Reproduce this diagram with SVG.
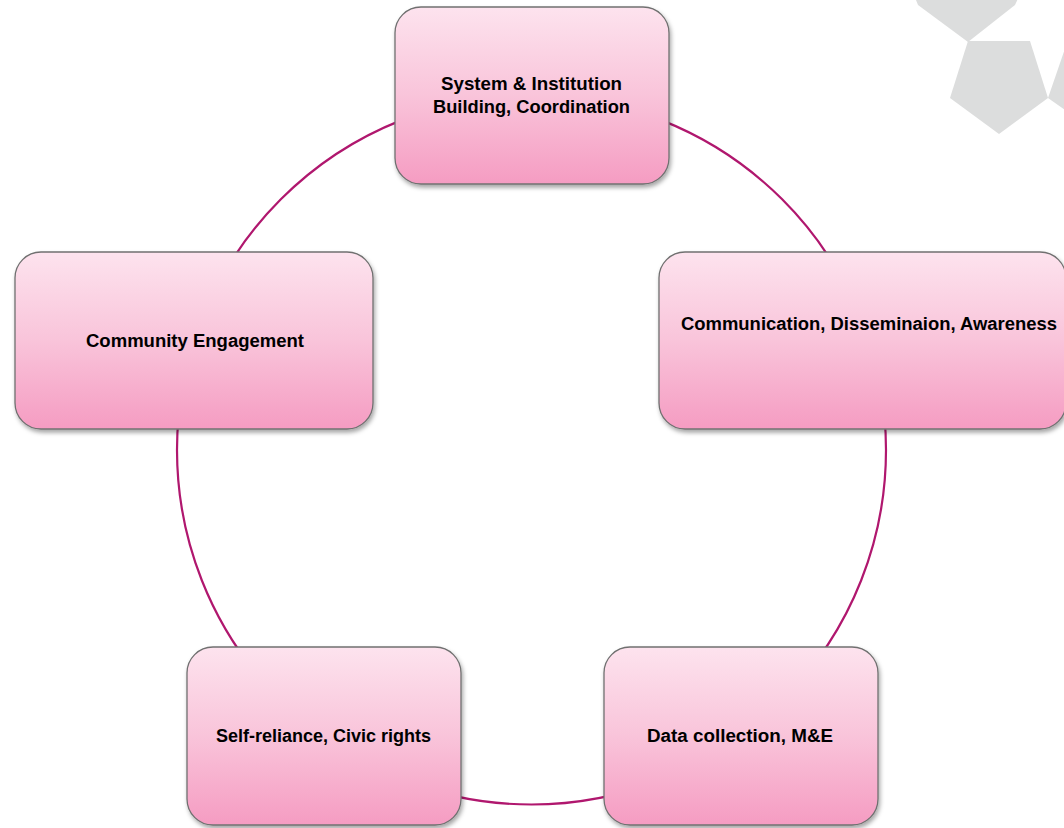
<svg xmlns="http://www.w3.org/2000/svg" width="1064" height="828" viewBox="0 0 1064 828">
<style>
.box{fill:url(#pk);stroke:#707070;stroke-width:1.3;filter:url(#sh)}
.lbl{font-family:"Liberation Sans",Arial,sans-serif;font-weight:bold;font-size:18px;fill:#000;text-anchor:middle}
.conn{fill:none;stroke:#b0176e;stroke-width:2.2}
.deco{fill:#dcdddd}
</style>
<defs>
<linearGradient id="pk" x1="0" y1="0" x2="0" y2="1">
<stop offset="0" stop-color="#fde3ee"/>
<stop offset="0.5" stop-color="#f9c4da"/>
<stop offset="1" stop-color="#f59cc2"/>
</linearGradient>
<filter id="sh" x="-10%" y="-10%" width="125%" height="125%">
<feDropShadow dx="1.5" dy="3" stdDeviation="2" flood-color="#000" flood-opacity="0.35"/>
</filter>
</defs>
<rect width="1064" height="828" fill="#fff"/>
<g id="decoration">
<polygon class="deco" points="912,-10 918,5 968,42 1015,5 1022,-10"/>
<polygon class="deco" points="968,41 1030,41 1048,98 999,134 950,98"/>
<polygon class="deco" points="1068,40 1048,98 1068,112"/>
</g>
<g id="connectors">
<circle class="conn" cx="531.5" cy="450" r="354.5"/>
</g>
<g id="n1">
<rect class="box" x="395" y="7" width="274" height="177" rx="26"/>
<text class="lbl" x="531.5" y="90" textLength="181" lengthAdjust="spacingAndGlyphs">System &amp; Institution</text>
<text class="lbl" x="531.5" y="113" textLength="197" lengthAdjust="spacingAndGlyphs">Building, Coordination</text>
</g>
<g id="n2">
<rect class="box" x="659" y="252" width="407" height="177" rx="26"/>
<text class="lbl" x="869" y="330" textLength="376" lengthAdjust="spacingAndGlyphs">Communication, Disseminaion, Awareness</text>
</g>
<g id="n3">
<rect class="box" x="604" y="647" width="274" height="178" rx="26"/>
<text class="lbl" x="740" y="742" textLength="186" lengthAdjust="spacingAndGlyphs">Data collection, M&amp;E</text>
</g>
<g id="n4">
<rect class="box" x="187" y="647" width="274" height="178" rx="26"/>
<text class="lbl" x="323.5" y="742" textLength="215" lengthAdjust="spacingAndGlyphs">Self-reliance, Civic rights</text>
</g>
<g id="n5">
<rect class="box" x="15" y="252" width="358" height="177" rx="26"/>
<text class="lbl" x="195" y="347" textLength="218" lengthAdjust="spacingAndGlyphs">Community Engagement</text>
</g>
</svg>
